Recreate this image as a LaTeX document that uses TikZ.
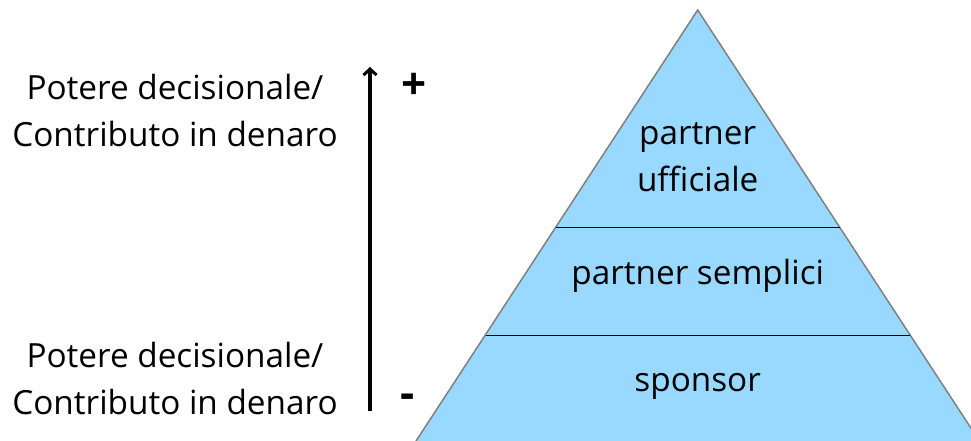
\documentclass[tikz,border=0pt]{standalone}
\usepackage{fontspec}
\setmainfont{Open Sans}
\usetikzlibrary{arrows.meta}
\begin{document}
\begin{tikzpicture}[x=1pt,y=-1pt,
  lbl/.style={font=\fontsize{33.3}{47}\selectfont, align=center, inner sep=0pt},
  sep/.style={draw=black, line width=1.5pt},
  pm/.style={font=\bfseries\fontsize{44}{44}\selectfont, inner sep=0pt}]
\useasboundingbox (0,0) rectangle (971,441);
\definecolor{pyr}{RGB}{153,217,255}
\definecolor{edge}{RGB}{128,128,128}
\begin{scope}
\clip (0,0) rectangle (971,441);
\coordinate (apex) at (697.7,10);
\coordinate (bl) at (416,441);
\coordinate (br) at (979.4,441);
\fill[pyr] (apex) -- (bl) -- (br) -- cycle;
\draw[edge, line width=1.5pt, line join=miter] (bl) -- (apex) -- (br);
\end{scope}
\coordinate (l1a) at (555.9,227.3);
\coordinate (l1b) at (839.5,227.3);
\coordinate (l2a) at (485.5,335.5);
\coordinate (l2b) at (909.9,335.5);
\draw[sep] (l1a) -- (l1b);
\draw[sep] (l2a) -- (l2b);
\node[lbl] (t1) at (697.7,157) {partner\\ufficiale};
\node[lbl] (t2) at (697.7,276) {partner semplici};
\node[lbl] (t3) at (697.7,386) {sponsor};
\node[lbl] (a1) at (175,111) {Potere decisionale/\\Contributo in denaro};
\node[lbl] (a2) at (175,379) {Potere decisionale/\\Contributo in denaro};
\coordinate (arrB) at (370,411);
\coordinate (arrT) at (370,67);
\draw[line width=3.3pt, -{Straight Barb[length=6pt,width=13pt,line width=3pt]}] (arrB) -- (arrT);
\node[pm] (plus) at (414,86) {+};
\node[pm] (minus) at (408,401) {-};
\end{tikzpicture}
\end{document}
